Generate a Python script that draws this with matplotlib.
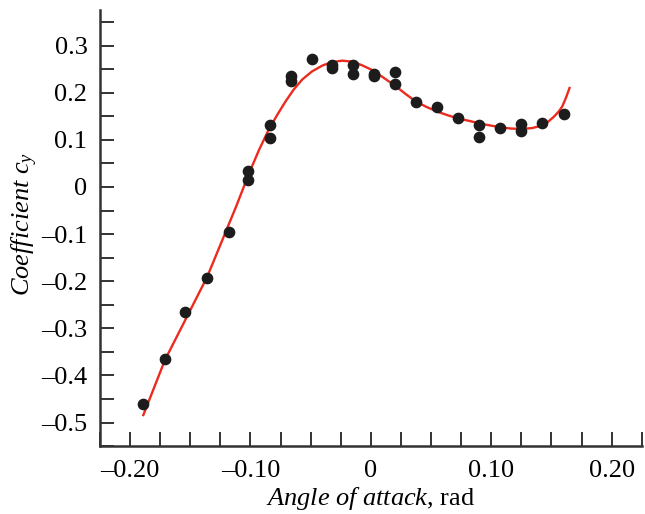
import numpy as np
import matplotlib
matplotlib.use("Agg")
import matplotlib.pyplot as plt

plt.rcParams["font.family"] = ["Liberation Serif", "DejaVu Serif"]
plt.rcParams["mathtext.fontset"] = "custom"
plt.rcParams["mathtext.rm"] = "Liberation Serif"
plt.rcParams["mathtext.it"] = "Liberation Serif:italic"

# measured points (angle of attack in rad, cy)
alpha_pts = [-0.189, -0.171, -0.154, -0.136, -0.118,
             -0.102, -0.102, -0.084, -0.084, -0.066, -0.066,
             -0.049, -0.032, -0.032, -0.015, -0.015, 0.003, 0.003,
             0.020, 0.020, 0.0375, 0.055, 0.0725, 0.090, 0.090,
             0.1075, 0.125, 0.125, 0.1425, 0.160]
cy_pts = [-0.461, -0.365, -0.265, -0.193, -0.096,
          0.034, 0.015, 0.132, 0.104, 0.235, 0.224,
          0.272, 0.258, 0.252, 0.259, 0.239, 0.240, 0.235,
          0.244, 0.218, 0.180, 0.170, 0.147, 0.132, 0.107,
          0.126, 0.133, 0.119, 0.135, 0.155]

# approximation curve
alpha_fit = [-0.189, -0.171, -0.136, -0.112, -0.101, -0.093, -0.085, -0.078,
             -0.071, -0.064, -0.057, -0.049, -0.040, -0.032, -0.024, -0.016,
             -0.008, 0.002, 0.011, 0.020, 0.029, 0.037, 0.046, 0.055, 0.064,
             0.073, 0.082, 0.090, 0.098, 0.107, 0.116, 0.125, 0.134, 0.140,
             0.147, 0.152, 0.156, 0.159, 0.162, 0.165]
cy_fit = [-0.484, -0.367, -0.191, -0.042, 0.030, 0.078, 0.121, 0.152,
          0.181, 0.207, 0.228, 0.245, 0.258, 0.265, 0.268, 0.266,
          0.259, 0.247, 0.231, 0.215, 0.197, 0.182, 0.170, 0.160, 0.152,
          0.145, 0.140, 0.135, 0.131, 0.127, 0.124, 0.123, 0.125, 0.129,
          0.138, 0.149, 0.160, 0.171, 0.189, 0.210]

xticks = [-0.20, -0.10, 0, 0.10, 0.20]
xtick_labels = ["\u20130.20", "\u20130.10", "0", "0.10", "0.20"]
yticks = [-0.5, -0.4, -0.3, -0.2, -0.1, 0, 0.1, 0.2, 0.3]
ytick_labels = ["\u20130.5", "\u20130.4", "\u20130.3", "\u20130.2", "\u20130.1",
                "0", "0.1", "0.2", "0.3"]

fig = plt.figure(figsize=(6.45, 5.14), dpi=100)
ax = fig.add_axes([0.155, 0.132, 0.84, 0.849])

ax.plot(alpha_fit, cy_fit, color="#ec2b1e", lw=1.7, zorder=2)
ax.plot(alpha_pts, cy_pts, "o", color="#1c1c1c", ms=7.4, zorder=3)

ax.set_xlim(-0.2249, 0.216)
ax.set_ylim(-0.55, 0.376)

ax.set_xticks(xticks)
ax.set_xticklabels(xtick_labels)
ax.set_xticks(np.arange(-0.225, 0.2251, 0.025), minor=True)
ax.set_yticks(yticks)
ax.set_yticklabels(ytick_labels)
ax.set_yticks(np.arange(-0.55, 0.3751, 0.05), minor=True)

ax.tick_params(which="both", direction="in", length=10, width=1.4,
               labelsize=19, color="#333333")
ax.tick_params(axis="x", pad=10)
ax.tick_params(axis="y", pad=9)

for s in ["top", "right"]:
    ax.spines[s].set_visible(False)
for s in ["left", "bottom"]:
    ax.spines[s].set_linewidth(1.8)
    ax.spines[s].set_color("#333333")

ax.set_xlabel(r"$\mathit{Angle\ of\ attack}$, rad", fontsize=19, labelpad=2)
ax.set_ylabel(r"$\mathit{Coefficient}\ \mathit{c}_{\mathit{y}}$", fontsize=19)
ax.yaxis.set_label_coords(-0.11, 0.51)

fig.savefig("out.png", dpi=100)
